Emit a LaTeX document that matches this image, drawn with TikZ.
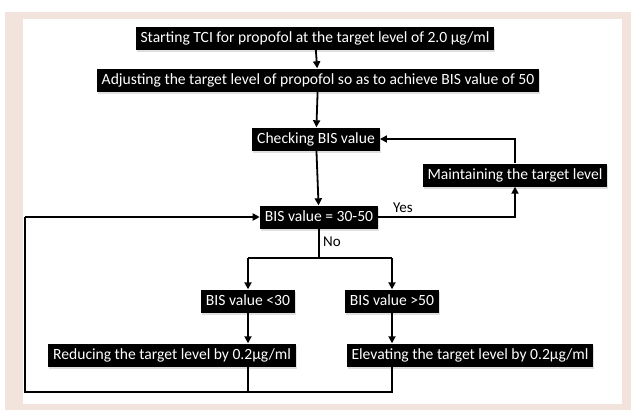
\documentclass[tikz,border=0pt]{standalone}
\usepackage{fontspec}
\setmainfont{Carlito}
\usetikzlibrary{positioning,arrows.meta,shadows}

\definecolor{framepink}{HTML}{F3E3DD}

\tikzset{
	blk/.style={fill=black, text=white, inner xsep=5pt, inner ysep=3.5pt,
		font=\fontsize{15.6}{17}\selectfont, text height=12pt, text depth=4pt,
		drop shadow={shadow xshift=1pt, shadow yshift=-2pt, opacity=0.25}},
	arr/.style={line width=1.8pt, -{Triangle[length=7pt,width=7pt]}},
	ln/.style={line width=1.8pt},
	lbl/.style={font=\fontsize{15}{17}\selectfont}
}

\begin{document}
\begin{tikzpicture}[x=1pt, y=-1pt]
	\useasboundingbox (0, 0) rectangle (631, 410);
	\fill[framepink] (5, 12) rectangle (631, 410);
	\fill[white] (23, 19) rectangle (622, 404);

	\node[blk] (start) at (315, 38) {Starting TCI for propofol at the target level of 2.0 µg/ml};
	\node[blk] (adjust) at (318, 80) {Adjusting the target level of propofol so as to achieve BIS value of 50};
	\node[blk] (check) at (316, 139) {Checking BIS value};
	\node[blk] (maint) at (515, 175) {Maintaining the target level};
	\node[blk] (bis) at (319, 217) {BIS value = 30-50};
	\node[blk] (low) at (248, 301) {BIS value <30};
	\node[blk] (high) at (392, 301) {BIS value >50};
	\node[blk] (reduce) at (172, 355) {Reducing the target level by 0.2µg/ml};
	\node[blk] (raise) at (470, 355) {Elevating the target level by 0.2µg/ml};

	\coordinate (split) at (319, 258);
	\coordinate (lowtop) at (248, 258);
	\coordinate (hightop) at (392, 258);
	\coordinate (lowbot) at (248, 392);
	\coordinate (highbot) at (392, 392);
	\coordinate (corner) at (25, 392);
	\coordinate (leftup) at (25, 217);

	\draw[arr] (start) -- (adjust);
	\draw[arr] (adjust) -- (check);
	\draw[arr] (check) -- (bis);
	\draw[arr] (bis.east) -| node[lbl, pos=0.09, above] {Yes} (maint.south);
	\draw[arr] (maint.north) |- (check.east);

	\draw[ln] (bis.south) -- node[lbl, right, pos=0.45] {No} (split);
	\draw[ln] (lowtop) -- (hightop);
	\draw[arr] (lowtop) -- (low);
	\draw[arr] (hightop) -- (high);
	\draw[arr] (low) -- (low |- reduce.north);
	\draw[arr] (high) -- (high |- raise.north);

	\draw[ln] (low |- reduce.south) -- (lowbot);
	\draw[ln] (high |- raise.south) -- (highbot) -- (corner) -- (leftup);
	\draw[arr] (leftup) -- (bis.west);
\end{tikzpicture}
\end{document}
